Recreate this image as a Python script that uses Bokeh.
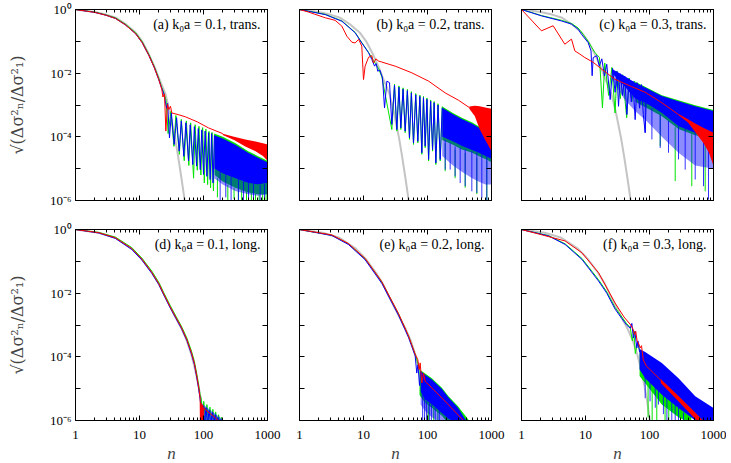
from bokeh.plotting import figure
from bokeh.models import Range1d, LogAxis, FixedTicker, CustomJSTickFormatter, Label
from bokeh.layouts import row, column
from bokeh.embed import file_html
from bokeh.resources import INLINE

# ---------------- ticks / labels ----------------
x_major = [1, 10, 100, 1000]
x_minor = [2, 3, 4, 5, 6, 7, 8, 9, 20, 30, 40, 50, 60, 70, 80, 90,
           200, 300, 400, 500, 600, 700, 800, 900]
x_tick_labels = ["1", "10", "100", "1000"]
y_major = [1e-6, 1e-5, 1e-4, 1e-3, 1e-2, 1e-1, 1]
y_tick_labels = ["10⁻⁶", "", "10⁻⁴", "", "10⁻²", "", "10⁰"]
y_title = "√(Δσ²ₙ/Δσ²₁)"
x_title = "n"
panel_titles = ["(a) k₀a = 0.1, trans.", "(b) k₀a = 0.2, trans.", "(c) k₀a = 0.3, trans.",
                "(d) k₀a = 0.1, long.", "(e) k₀a = 0.2, long.", "(f) k₀a = 0.3, long."]

# ---------------- data (n, log10 of value) ----------------
grey_top_n = [1, 2, 3, 4.2, 6, 8.7, 11, 14, 17, 20, 25.5, 30, 36, 40, 45, 50, 53]
grey_top_v = [0, -0.08, -0.16, -0.25, -0.45, -0.72, -1.0, -1.4, -1.78, -2.14, -2.66, -3.25, -4.05, -4.6, -5.27, -5.9, -6.3]
grey_bot_n = [1, 2.3, 4.2, 7.6, 10.9, 15.6, 20, 24, 30, 37, 45, 55, 65, 72, 78, 85, 92, 98, 104]
grey_bot_v = [0, -0.1, -0.26, -0.6, -0.93, -1.35, -1.7, -2.03, -2.42, -2.78, -3.1, -3.5, -3.95, -4.3, -4.62, -5.0, -5.4, -5.8, -6.15]

# (a)
a_red_n = [1, 2, 3, 4.2, 6, 8.7, 11, 14, 17, 20, 22.3, 23.2, 24.6, 25.8, 27.4, 28.7, 30.5, 32, 40, 52, 80, 120, 200]
a_red_v = [0, -0.09, -0.18, -0.28, -0.48, -0.76, -1.04, -1.44, -1.82, -2.2, -2.5, -2.75, -2.65, -3.82, -2.98, -3.14, -3.04, -3.25, -3.3, -3.37, -3.53, -3.72, -3.9]
a_red_band_n = [200, 300, 450, 650, 850, 1000]
a_red_band_hi = [-3.9, -4.0, -4.08, -4.15, -4.2, -4.24]
a_red_band_lo = [-3.94, -4.1, -4.3, -4.45, -4.6, -4.75]
a_green_n = [1, 2, 3, 4.2, 6, 8.7, 11, 14, 17, 20, 22, 24, 26, 28, 31, 34.5, 37, 42, 45, 50, 54, 59, 63, 70, 74, 80, 85, 91, 97, 103, 109, 116, 122, 129, 136, 143, 150]
a_green_v = [0, -0.08, -0.17, -0.26, -0.46, -0.73, -1.01, -1.41, -1.79, -2.16, -2.42, -2.62, -2.85, -3.9, -3.2, -4.3, -3.33, -4.55, -3.45, -4.75, -3.5, -4.9, -3.56, -5.3, -3.62, -5.05, -3.67, -5.2, -3.71, -5.45, -3.76, -5.5, -3.83, -5.6, -3.86, -5.7, -3.9]
a_green_band_n = [150, 200, 313, 500, 700, 1000]
a_green_band_hi = [-3.9, -4.0, -4.19, -4.45, -4.6, -4.75]
a_green_band_lo = [-5.2, -5.4, -5.6, -5.75, -5.8, -5.8]
a_green_spike_n = [165, 240, 300, 350, 395, 470, 560, 650, 740, 840, 950]
a_green_spike_top = [-5.3, -5.5, -5.6, -5.62, -5.65, -5.7, -5.75, -5.78, -5.8, -5.8, -5.8]
a_green_spike_bot = [-5.9, -6.2, -5.95, -6.2, -6.2, -6.2, -6.2, -6.2, -6.2, -6.2, -6.2]
a_blue_n = [1, 2, 3, 4.2, 6, 8.7, 11, 14, 17, 20, 22, 24, 26.5, 27.5, 29.4, 31.5, 34.8, 38, 41.7, 45, 49.3, 53, 58.3, 62, 68, 72, 78, 83, 89, 94, 100, 106, 113, 120, 127, 134, 141, 148]
a_blue_v = [0, -0.09, -0.18, -0.28, -0.48, -0.76, -1.04, -1.44, -1.82, -2.2, -2.45, -2.65, -3.1, -2.95, -4.03, -3.25, -4.24, -3.4, -4.45, -3.5, -4.61, -3.56, -4.76, -3.62, -4.87, -3.68, -4.92, -3.74, -5.03, -3.78, -5.18, -3.82, -5.24, -3.87, -5.34, -3.9, -5.45, -3.95]
a_blue_band_n = [148, 200, 313, 500, 700, 1000]
a_blue_band_hi = [-3.95, -4.05, -4.25, -4.5, -4.65, -4.8]
a_blue_band_lo = [-5.0, -5.15, -5.3, -5.45, -5.5, -5.45]
a_blue_fringe_lo = [-5.3, -5.5, -5.7, -5.8, -5.85, -5.8]
a_blue_spike_n = [182, 223, 270, 352, 422, 505, 604, 768, 898]
a_blue_spike_top = [-5.1, -5.15, -5.2, -5.3, -5.35, -5.45, -5.48, -5.5, -5.47]
a_blue_spike_bot = [-6.2, -5.9, -6.2, -6.2, -6.0, -6.2, -6.2, -6.2, -6.2]

# (b)
b_red_n = [1, 1.38, 2.52, 3.6, 4.58, 5.5, 6.6, 7.4, 8.4, 9.4, 10, 10.6, 12, 13.5, 14.3, 15.6, 17.2, 19.3, 25, 31.3, 57, 104, 189, 305, 450]
b_red_v = [0, -0.08, -0.26, -0.34, -0.52, -0.84, -1.03, -1.05, -0.94, -1.15, -2.2, -1.78, -1.5, -1.45, -1.68, -1.55, -1.62, -1.65, -1.72, -1.78, -1.99, -2.25, -2.62, -2.85, -3.08]
b_red_band_n = [450, 550, 650, 800, 1000]
b_red_band_hi = [-3.05, -3.02, -3.04, -3.08, -3.12]
b_red_band_lo = [-3.12, -3.35, -3.75, -4.1, -4.45]
b_green_n = [1, 2.52, 4.6, 7.4, 9.4, 12, 14.3, 17.2, 19.3, 27.7, 30.5, 33.2, 35.8, 38.3, 41.5, 44.8, 48.5, 52.3, 56, 60.4, 65.5, 70.6, 76, 81.5, 86.5, 92, 98, 104, 112, 120, 127, 135, 146, 158, 170]
b_green_v = [0, -0.15, -0.36, -0.72, -1.04, -1.35, -1.6, -1.86, -2.1, -3.77, -2.34, -3.82, -2.4, -3.77, -2.46, -3.87, -2.51, -4.08, -2.58, -4.24, -2.64, -4.19, -2.69, -4.55, -2.73, -4.34, -2.78, -4.76, -2.84, -4.45, -2.89, -4.87, -2.96, -4.76, -3.05]
b_green_band_n = [170, 250, 344, 500, 626, 800, 1000]
b_green_band_hi = [-3.05, -3.25, -3.4, -3.55, -3.67, -3.75, -3.85]
b_green_band_lo = [-4.1, -4.25, -4.4, -4.5, -4.6, -4.7, -4.8]
b_green_spike_n = [189, 270, 388, 590, 845]
b_green_spike_top = [-4.2, -4.4, -4.5, -4.65, -4.75]
b_green_spike_bot = [-5.08, -5.3, -5.6, -5.8, -6.05]
b_blue_n = [1, 2.52, 4.6, 7.4, 9.4, 12, 13.5, 14.9, 15.8, 16.7, 18, 19.8, 21.3, 23.2, 25.5, 27.7, 30.5, 33.2, 35.8, 38.3, 41.5, 44.8, 48.5, 52.3, 56, 60.4, 65.5, 70.6, 76, 81.5, 86.5, 92, 98, 104, 112, 120, 127, 135, 146, 158, 170]
b_blue_v = [0, -0.16, -0.37, -0.73, -1.05, -1.36, -1.57, -1.78, -1.7, -1.94, -1.9, -2.15, -3.09, -2.25, -2.3, -3.61, -2.38, -3.77, -2.44, -3.72, -2.5, -3.82, -2.55, -4.03, -2.62, -4.19, -2.68, -4.14, -2.73, -4.5, -2.77, -4.29, -2.82, -4.71, -2.88, -4.4, -2.93, -4.82, -3.0, -4.71, -3.09]
b_blue_band_n = [170, 250, 344, 500, 626, 800, 1000]
b_blue_band_hi = [-3.09, -3.29, -3.44, -3.59, -3.71, -3.79, -3.89]
b_blue_band_lo = [-4.0, -4.15, -4.29, -4.42, -4.5, -4.6, -4.7]
b_blue_fringe_lo = [-4.6, -4.9, -5.1, -5.3, -5.4, -5.5, -5.5]
b_blue_spike_n = [189, 226, 270, 324, 388, 493, 590, 706, 845]
b_blue_spike_top = [-4.1, -4.2, -4.3, -4.35, -4.4, -4.45, -4.5, -4.55, -4.6]
b_blue_spike_bot = [-5.03, -5.03, -5.24, -5.45, -5.55, -5.71, -5.76, -5.92, -6.0]

# (c)
c_red_n = [1, 2.05, 3.12, 4.75, 6.04, 6.81, 8.15, 9.77, 13.2, 17.8, 28.7, 52.3, 85.6, 156, 284]
c_red_v = [0, -0.67, -0.51, -1.09, -0.93, -1.3, -1.4, -1.51, -1.66, -1.87, -2.19, -2.42, -2.6, -2.93, -3.3]
c_red_band_n = [284, 400, 518, 700, 850, 1000]
c_red_band_hi = [-3.28, -3.45, -3.58, -3.72, -3.8, -3.87]
c_red_band_lo = [-3.32, -3.55, -3.85, -4.2, -4.5, -4.92]
c_green_n = [1, 2.05, 4.22, 6.04, 7.68, 9.5, 11, 12.6, 14, 15.5, 16.5, 18.4, 20, 23, 25.8, 29, 31, 35, 38, 44, 48, 53, 58, 60]
c_green_v = [0, -0.19, -0.34, -0.44, -0.58, -0.82, -1.0, -1.2, -1.35, -1.45, -1.5, -3.09, -1.68, -2.7, -1.82, -3.25, -1.93, -2.8, -2.05, -3.4, -2.15, -2.9, -2.25, -2.28]
c_green_band_n = [60, 156, 284, 518, 1000]
c_green_band_hi = [-2.27, -2.69, -2.85, -3.01, -3.16]
c_green_band_lo = [-2.9, -3.35, -3.75, -3.95, -4.05]
c_green_spike_n = [147, 252, 458, 741]
c_green_spike_top = [-3.3, -3.7, -3.9, -4.0]
c_green_spike_bot = [-4.29, -5.39, -5.55, -5.71]
c_blue_n = [1, 2.05, 4.22, 6.04, 7.68, 8.66, 11, 12.2, 12.7, 13.2, 15, 16.4, 18, 19.8, 21.5, 24.3, 26.5, 29, 31, 32.8, 35, 38, 41, 44.3, 48, 52, 55, 59.7, 64, 70, 75, 80, 85.6, 90]
c_blue_v = [0, -0.2, -0.36, -0.46, -0.62, -0.78, -1.04, -1.3, -2.08, -1.51, -1.45, -1.78, -1.55, -2.09, -1.72, -2.83, -1.85, -2.6, -1.95, -3.04, -2.02, -2.7, -2.1, -3.3, -2.18, -2.9, -2.25, -3.46, -2.3, -3.1, -2.36, -3.3, -3.87, -2.47]
c_blue_band_n = [26, 40, 60, 90, 156, 284, 518, 1000]
c_blue_band_hi = [-1.87, -2.08, -2.3, -2.47, -2.72, -2.88, -3.04, -3.19]
c_blue_band_lo = [-2.0, -2.4, -2.8, -2.95, -3.25, -3.67, -3.88, -3.98]
c_blue_fringe_lo = [-2.2, -2.8, -3.2, -3.5, -4.0, -4.5, -4.9, -5.0]
c_blue_spike_n = [85.6, 109, 147, 198, 284, 361, 518, 698, 835]
c_blue_spike_top = [-2.9, -3.1, -3.3, -3.5, -3.67, -3.75, -3.88, -3.93, -3.96]
c_blue_spike_bot = [-3.87, -4.08, -4.35, -4.5, -4.71, -5.03, -5.34, -5.55, -5.97]

# (d)
d_red_n = [1, 2.3, 4.2, 7.6, 10.9, 15.6, 20, 24, 30, 37, 45, 55, 65, 72, 78.5, 84, 88.7, 89.5, 91, 92.5, 94, 95.5, 97, 99, 101, 110, 140, 182]
d_red_v = [0, -0.1, -0.26, -0.6, -0.93, -1.35, -1.7, -2.03, -2.42, -2.76, -3.07, -3.46, -3.88, -4.2, -4.6, -4.95, -5.3, -6.1, -5.45, -6.1, -5.5, -6.1, -5.52, -6.1, -5.6, -5.68, -5.85, -6.05]
d_green_n = [1, 2.3, 4.2, 7.6, 10.9, 15.6, 20, 24, 30, 37, 45, 55, 65, 72, 78.5, 84, 88.7, 92, 97, 101, 108, 113, 120, 126, 134, 140, 148, 155, 164, 172, 182, 190, 205, 220, 230]
d_green_v = [0, -0.09, -0.24, -0.57, -0.9, -1.31, -1.66, -1.99, -2.38, -2.72, -3.03, -3.41, -3.82, -4.14, -4.53, -4.88, -5.2, -5.3, -5.85, -5.4, -6.1, -5.5, -6.1, -5.58, -6.1, -5.65, -6.1, -5.73, -6.1, -5.82, -6.1, -5.9, -6.1, -6.0, -6.1]
d_blue_n = [1, 2.3, 4.2, 7.6, 10.9, 15.6, 20, 24, 30, 37, 45, 55, 65, 72, 78.5, 84, 88.7, 90, 94, 98, 104, 109, 116, 122, 130, 137, 145, 152, 160, 168, 178, 188, 200]
d_blue_v = [0, -0.11, -0.28, -0.63, -0.96, -1.38, -1.73, -2.06, -2.45, -2.79, -3.1, -3.49, -3.92, -4.24, -4.65, -5.0, -5.35, -5.45, -6.1, -5.55, -6.1, -5.6, -6.1, -5.68, -6.1, -5.75, -6.1, -5.82, -6.1, -5.9, -6.1, -5.97, -6.1]
d_blue_band_n = [92, 130, 200]
d_blue_band_hi = [-5.45, -5.68, -5.97]
d_blue_band_lo = [-6.1, -6.1, -6.1]

# (e)
e_red_n = [1, 3.2, 5.8, 10.6, 19.3, 35.2, 50.5, 64.2, 70.6, 74.1, 76.8, 81.5, 86.6, 92, 97.7, 200, 365, 400]
e_red_v = [0, -0.17, -0.44, -0.91, -1.64, -2.64, -3.34, -3.92, -4.09, -4.4, -4.19, -4.82, -4.51, -4.77, -4.82, -5.45, -6.0, -6.08]
e_green_n = [1, 3.2, 5.8, 10.6, 19.3, 35.2, 50.5, 64.2, 68, 72.3, 75]
e_green_v = [0, -0.18, -0.45, -0.92, -1.65, -2.65, -3.35, -3.93, -4.08, -4.28, -4.4]
e_green_band_n = [75, 92, 117, 168, 213, 300, 437]
e_green_band_hi = [-4.4, -4.52, -4.67, -4.97, -5.24, -5.55, -5.98]
e_green_band_lo = [-5.2, -5.45, -5.6, -5.85, -6.1, -6.1, -6.1]
e_green_spike_n = [103, 125, 145]
e_green_spike_top = [-5.5, -5.6, -5.7]
e_green_spike_bot = [-6.1, -6.1, -6.1]
e_blue_n = [1, 3.2, 5.8, 10.6, 19.3, 35.2, 50.5, 64.2, 68, 71, 75, 78]
e_blue_v = [0, -0.19, -0.47, -0.95, -1.69, -2.69, -3.39, -3.97, -4.51, -4.25, -4.9, -4.45]
e_blue_band_n = [78, 92, 117, 168, 213, 300, 400]
e_blue_band_hi = [-4.45, -4.56, -4.71, -5.01, -5.28, -5.6, -6.0]
e_blue_band_lo = [-5.1, -5.35, -5.5, -5.77, -5.95, -6.1, -6.1]
e_blue_fringe_lo = [-5.5, -5.7, -5.9, -6.1, -6.1, -6.1, -6.1]
e_blue_spike_n = [84, 90, 97, 107, 115, 132, 153]
e_blue_spike_top = [-5.2, -5.3, -5.4, -5.45, -5.5, -5.6, -5.7]
e_blue_spike_bot = [-6.1, -6.1, -6.1, -6.1, -6.1, -6.1, -6.1]

# (f)
f_red_n = [1, 4.8, 8.8, 16, 29, 40, 51, 56, 58.5, 61, 64, 67, 71.5, 75, 80, 90, 102, 200, 400, 657, 750]
f_red_v = [0, -0.36, -0.73, -1.36, -2.31, -2.75, -3.0, -3.15, -3.3, -3.2, -3.5, -3.56, -3.72, -3.65, -4.1, -4.3, -4.4, -4.98, -5.57, -6.0, -6.12]
f_red_band_n = [150, 300, 500, 700]
f_red_band_hi = [-4.7, -5.28, -5.72, -6.02]
f_red_band_lo = [-4.82, -5.45, -5.92, -6.2]
f_green_n = [1, 2.64, 4.8, 8.8, 16, 21.5, 29, 37, 44, 50, 54, 57, 60, 65, 70]
f_green_v = [0, -0.19, -0.45, -0.91, -1.58, -1.96, -2.45, -2.75, -2.96, -3.08, -3.5, -3.2, -3.9, -3.55, -3.8]
f_green_band_n = [70, 100, 156, 284, 450]
f_green_band_hi = [-3.8, -4.0, -4.3, -4.8, -5.2]
f_green_band_lo = [-4.6, -5.0, -5.5, -5.9, -6.1]
f_green_spike_n = [95, 110, 130, 175, 200]
f_green_spike_top = [-4.8, -5.0, -5.1, -5.4, -5.5]
f_green_spike_bot = [-5.9, -6.1, -6.1, -6.1, -6.1]
f_blue_n = [1, 2.64, 4.8, 8.8, 16, 21.5, 29, 37, 44, 50, 53, 56, 59, 63.4, 66, 70]
f_blue_v = [0, -0.2, -0.47, -0.94, -1.62, -2.0, -2.5, -2.8, -3.0, -3.1, -2.95, -3.41, -3.2, -3.72, -3.5, -3.85]
f_blue_band_n = [70, 85.6, 156, 284, 518, 1000]
f_blue_band_hi = [-3.75, -3.85, -4.19, -4.67, -5.24, -5.61]
f_blue_band_lo = [-4.4, -4.67, -5.19, -5.61, -6.0, -6.2]
f_blue_spike_n = [85.6, 102, 123, 138, 165, 187, 223, 252, 284, 340]
f_blue_spike_top = [-4.6, -4.75, -4.9, -5.0, -5.15, -5.25, -5.4, -5.5, -5.6, -5.75]
f_blue_spike_bot = [-5.3, -5.4, -5.6, -5.5, -5.8, -6.1, -6.1, -6.1, -6.1, -6.1]

# ---------------- styling ----------------
FONT = "Liberation Serif"
RED = "#ff0000"
GREEN = "#00e400"
BLUE = "#0000ff"
GREY = "#c4c4c4"


def E(v):
    return [10.0 ** x for x in v]


def label_formatter(vals, labs):
    return CustomJSTickFormatter(args=dict(vals=vals, labs=labs), code="""
        let best = 0, bd = 1e9;
        for (let i = 0; i < vals.length; i++) {
            const d = Math.abs(Math.log10(tick) - Math.log10(vals[i]));
            if (d < bd) { bd = d; best = i; }
        }
        return labs[best];
    """)


def style_axis(ax, is_x, show):
    if is_x:
        ax.ticker = FixedTicker(ticks=x_major, minor_ticks=x_minor)
    else:
        ax.ticker = FixedTicker(ticks=y_major, minor_ticks=[])
    ax.axis_line_color = "black"
    ax.axis_line_width = 1
    ax.major_tick_in = 5
    ax.major_tick_out = 0
    ax.minor_tick_in = 3
    ax.minor_tick_out = 0
    ax.major_tick_line_color = "black"
    ax.minor_tick_line_color = "black"
    if show:
        ax.formatter = label_formatter(x_major, x_tick_labels) if is_x else label_formatter(y_major, y_tick_labels)
        ax.major_label_text_font = FONT
        ax.major_label_text_font_size = "13px"
        ax.major_label_text_color = "black"
        ax.major_label_standoff = 10 if is_x else 4
    else:
        ax.formatter = CustomJSTickFormatter(code="return '';")
        ax.major_label_text_font_size = "0px"
        ax.major_label_standoff = 0


def band(p, n, hi, lo, color, alpha=1.0):
    p.varea(x=n, y1=E(lo), y2=E(hi), fill_color=color, fill_alpha=alpha)


def spikes(p, n, top, bot, color, alpha=1.0):
    p.segment(x0=n, y0=E(top), x1=n, y1=E(bot), line_color=color, line_width=1, line_alpha=alpha)


panels = [
    dict(grey=(grey_top_n, grey_top_v),
         green=(a_green_n, a_green_v), green_band=(a_green_band_n, a_green_band_hi, a_green_band_lo),
         green_spike=(a_green_spike_n, a_green_spike_top, a_green_spike_bot),
         blue=(a_blue_n, a_blue_v), blue_band=(a_blue_band_n, a_blue_band_hi, a_blue_band_lo),
         blue_fringe=(a_blue_band_n, a_blue_band_lo, a_blue_fringe_lo),
         blue_spike=(a_blue_spike_n, a_blue_spike_top, a_blue_spike_bot),
         red=(a_red_n, a_red_v), red_band=(a_red_band_n, a_red_band_hi, a_red_band_lo)),
    dict(grey=(grey_top_n, grey_top_v),
         green=(b_green_n, b_green_v), green_band=(b_green_band_n, b_green_band_hi, b_green_band_lo),
         green_spike=(b_green_spike_n, b_green_spike_top, b_green_spike_bot),
         blue=(b_blue_n, b_blue_v), blue_band=(b_blue_band_n, b_blue_band_hi, b_blue_band_lo),
         blue_fringe=(b_blue_band_n, b_blue_band_lo, b_blue_fringe_lo),
         blue_spike=(b_blue_spike_n, b_blue_spike_top, b_blue_spike_bot),
         red=(b_red_n, b_red_v), red_band=(b_red_band_n, b_red_band_hi, b_red_band_lo)),
    dict(grey=(grey_top_n, grey_top_v),
         green=(c_green_n, c_green_v), green_band=(c_green_band_n, c_green_band_hi, c_green_band_lo),
         green_spike=(c_green_spike_n, c_green_spike_top, c_green_spike_bot),
         blue=(c_blue_n, c_blue_v), blue_band=(c_blue_band_n, c_blue_band_hi, c_blue_band_lo),
         blue_fringe=(c_blue_band_n, c_blue_band_lo, c_blue_fringe_lo),
         blue_spike=(c_blue_spike_n, c_blue_spike_top, c_blue_spike_bot),
         red=(c_red_n, c_red_v), red_band=(c_red_band_n, c_red_band_hi, c_red_band_lo)),
    dict(grey=(grey_bot_n, grey_bot_v),
         green=(d_green_n, d_green_v),
         blue=(d_blue_n, d_blue_v), blue_fringe=(d_blue_band_n, d_blue_band_hi, d_blue_band_lo),
         red=(d_red_n, d_red_v)),
    dict(grey=(grey_bot_n, grey_bot_v),
         green=(e_green_n, e_green_v), green_band=(e_green_band_n, e_green_band_hi, e_green_band_lo),
         green_spike=(e_green_spike_n, e_green_spike_top, e_green_spike_bot),
         blue=(e_blue_n, e_blue_v), blue_band=(e_blue_band_n, e_blue_band_hi, e_blue_band_lo),
         blue_fringe=(e_blue_band_n, e_blue_band_lo, e_blue_fringe_lo),
         blue_spike=(e_blue_spike_n, e_blue_spike_top, e_blue_spike_bot),
         red=(e_red_n, e_red_v)),
    dict(grey=(grey_bot_n, grey_bot_v),
         green=(f_green_n, f_green_v), green_band=(f_green_band_n, f_green_band_hi, f_green_band_lo),
         green_spike=(f_green_spike_n, f_green_spike_top, f_green_spike_bot),
         blue=(f_blue_n, f_blue_v), blue_band=(f_blue_band_n, f_blue_band_hi, f_blue_band_lo),
         blue_spike=(f_blue_spike_n, f_blue_spike_top, f_blue_spike_bot),
         red=(f_red_n, f_red_v), red_band=(f_red_band_n, f_red_band_hi, f_red_band_lo)),
]

LEFT = [75, 17, 15]
RIGHT = [15, 15, 13]
TOP = [9, 16]
BOTTOM = [13, 40]
FH = [191, 191]
FW = 192

figs = []
for idx, spec in enumerate(panels):
    c = idx % 3
    r = idx // 3
    p = figure(x_axis_type="log", y_axis_type="log",
               x_range=Range1d(1, 1000), y_range=Range1d(1e-6, 1),
               frame_width=FW, frame_height=FH[r],
               min_border_left=LEFT[c], min_border_right=RIGHT[c],
               min_border_top=TOP[r], min_border_bottom=BOTTOM[r],
               toolbar_location=None, output_backend="svg",
               background_fill_color="white", border_fill_color="white")
    p.outline_line_color = "black"
    p.xgrid.visible = False
    p.ygrid.visible = False

    bottom_ax = p.below[0]
    left_ax = p.left[0]
    style_axis(bottom_ax, True, r == 1)
    style_axis(left_ax, False, c == 0)
    top_ax = LogAxis()
    style_axis(top_ax, True, False)
    p.add_layout(top_ax, "above")
    right_ax = LogAxis()
    style_axis(right_ax, False, False)
    p.add_layout(right_ax, "right")

    if c == 0:
        left_ax.axis_label = y_title
        left_ax.axis_label_text_font = "DejaVu Serif"
        left_ax.axis_label_text_font_size = "16px"
        left_ax.axis_label_text_font_style = "normal"
        left_ax.axis_label_standoff = 20
    if r == 1:
        bottom_ax.axis_label = x_title
        bottom_ax.axis_label_text_font = FONT
        bottom_ax.axis_label_text_font_size = "17px"
        bottom_ax.axis_label_text_font_style = "italic"
        bottom_ax.axis_label_standoff = 2

    gn, gv = spec["grey"]
    p.line(gn, E(gv), line_color=GREY, line_width=2)

    if "green_band" in spec:
        band(p, *spec["green_band"], GREEN)
    if "green_spike" in spec:
        spikes(p, *spec["green_spike"], GREEN)
    p.line(spec["green"][0], E(spec["green"][1]), line_color=GREEN, line_width=1)

    if "blue_band" in spec:
        band(p, *spec["blue_band"], BLUE)
    if "blue_fringe" in spec:
        band(p, *spec["blue_fringe"], BLUE, 0.45)
    if "blue_spike" in spec:
        spikes(p, *spec["blue_spike"], BLUE, 0.8)
    p.line(spec["blue"][0], E(spec["blue"][1]), line_color=BLUE, line_width=1)

    if "red_band" in spec:
        band(p, *spec["red_band"], RED)
    p.line(spec["red"][0], E(spec["red"][1]), line_color=RED, line_width=1)

    p.add_layout(Label(x=775, y=0.33, text=panel_titles[idx], text_font=FONT,
                       text_font_size="14px", text_align="right", text_baseline="middle",
                       text_color="black"))
    figs.append(p)

layout = column(row(figs[0], figs[1], figs[2], spacing=0),
                row(figs[3], figs[4], figs[5], spacing=0), spacing=0)

open("out.html", "w").write(file_html(layout, INLINE))
